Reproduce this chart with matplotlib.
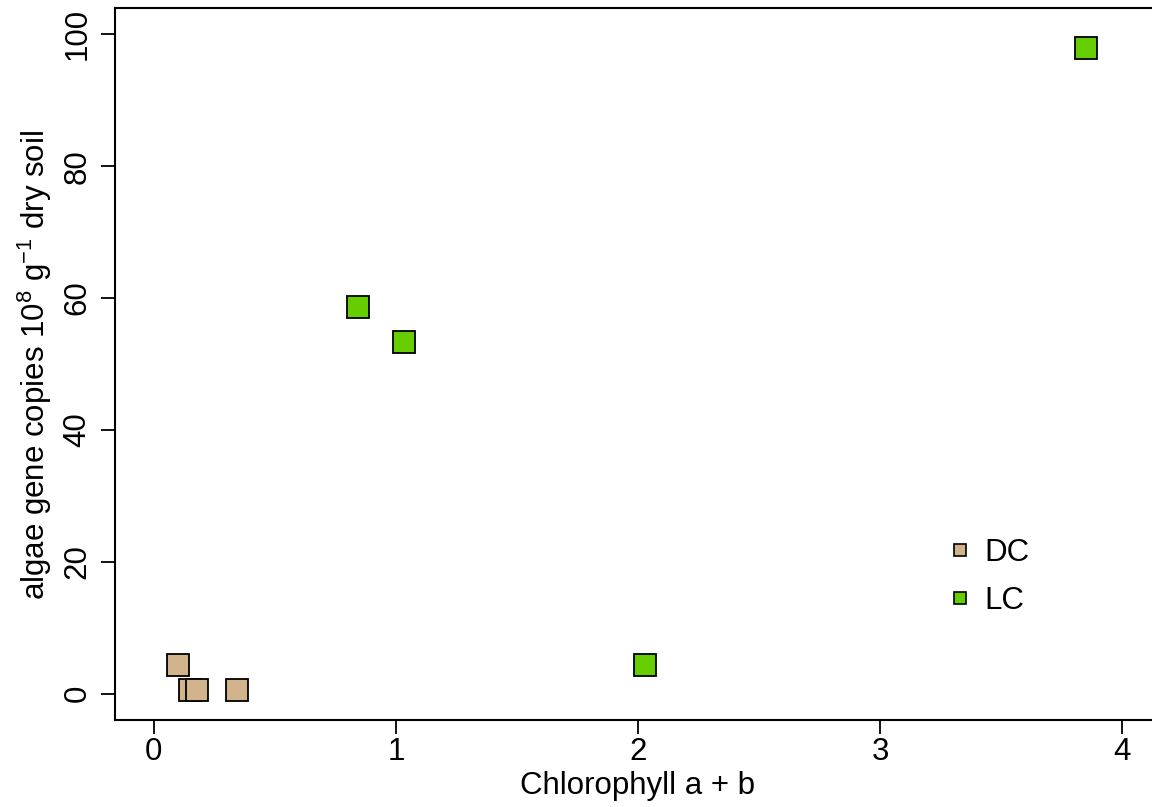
import matplotlib
matplotlib.use('Agg')
import matplotlib.pyplot as plt
from matplotlib.lines import Line2D

plt.rcParams['font.family'] = ['Liberation Sans', 'DejaVu Sans']
plt.rcParams['mathtext.fontset'] = 'custom'
plt.rcParams['mathtext.rm'] = 'Liberation Sans'

# chlorophyll a+b vs algae gene copies (10^8 / g dry soil)
dc_chl = [0.10, 0.15, 0.18, 0.345]
dc_copies = [4.4, 0.6, 0.5, 0.5]
lc_chl = [0.845, 1.035, 2.03, 3.85]
lc_copies = [58.6, 53.4, 4.4, 97.9]

GROUPS = ['DC', 'LC']
COLORS = {'DC': '#D2B48C', 'LC': '#66CD00'}
FS = 22.5

fig = plt.figure(figsize=(11.52, 8.07), dpi=100)
ax = fig.add_axes([0.0998, 0.1078, 0.908, 0.8823])

ax.plot(dc_chl, dc_copies, 's', ms=15.5, mfc=COLORS['DC'], mec='black', mew=1.3,
        linestyle='none')
ax.plot(lc_chl, lc_copies, 's', ms=15.5, mfc=COLORS['LC'], mec='black', mew=1.3,
        linestyle='none')

ax.set_xlim(-0.16, 4.16)
ax.set_ylim(-4, 104)
ax.set_xticks([0, 1, 2, 3, 4])
ax.set_yticks([0, 20, 40, 60, 80, 100])
ax.tick_params(axis='both', direction='out', length=10, width=1.3,
               labelsize=FS)
ax.tick_params(axis='x', pad=2)
ax.tick_params(axis='y', pad=6)
for lab in ax.get_yticklabels():
    lab.set_rotation(90)
    lab.set_va('center')
for sp in ax.spines.values():
    sp.set_linewidth(1.5)

ax.set_xlabel('Chlorophyll a + b', fontsize=FS)
ax.xaxis.set_label_coords(0.4995, -0.071)
ax.xaxis.label.set_va('top')
ax.set_ylabel(r'algae gene copies 10$^{8}$ g$^{-1}$ dry soil', fontsize=FS)
ax.yaxis.set_label_coords(-0.058, 0.499)

handles = [Line2D([], [], marker='s', ms=9, mfc=COLORS[g], mec='black',
                  mew=1.2, linestyle='none', label=g) for g in GROUPS]
ax.legend(handles=handles, loc='center', bbox_to_anchor=(0.826, 0.201),
          frameon=False, fontsize=FS, handletextpad=-0.2, labelspacing=0.6)

fig.savefig('out.png', dpi=100)
